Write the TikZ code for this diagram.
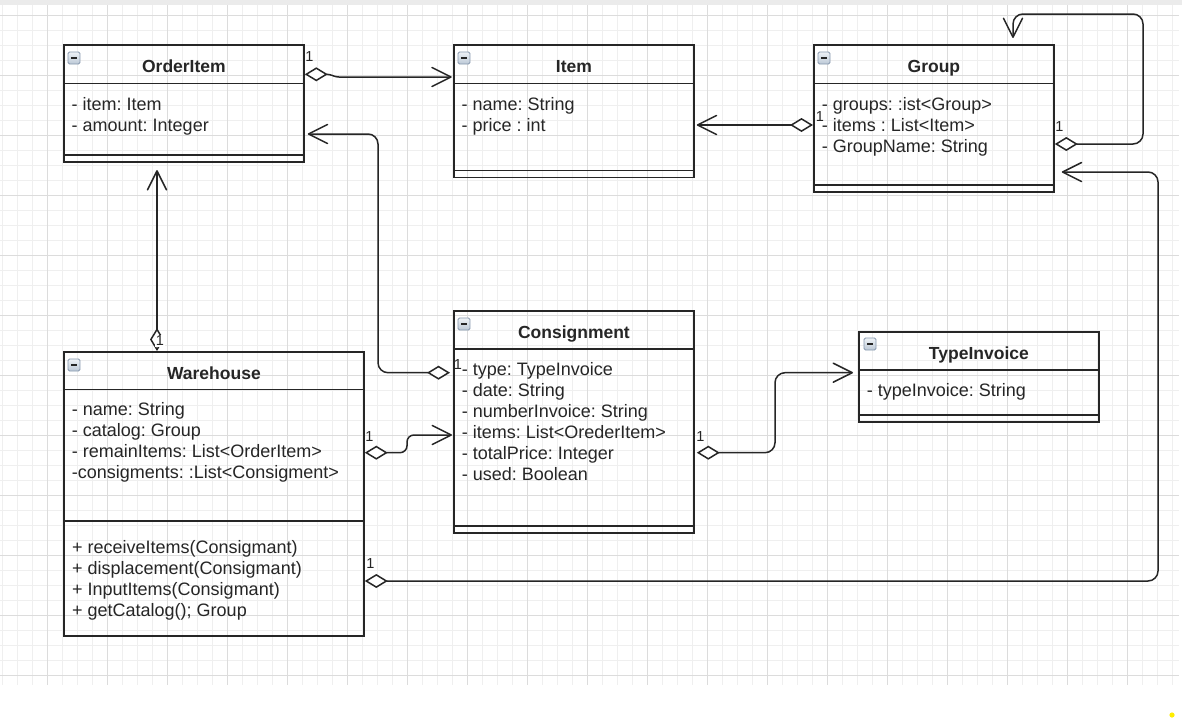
\documentclass[tikz,border=0pt]{standalone}
\usepackage{fontspec}
\setmainfont{Liberation Sans}
\usetikzlibrary{arrows.meta,calc}
\definecolor{gridmaj}{HTML}{DCDCDC}
\definecolor{gridmin}{HTML}{EFEFEF}
\definecolor{ink}{HTML}{262626}
\definecolor{iconedge}{HTML}{8798AE}
\definecolor{icontop}{HTML}{EEF2F6}
\definecolor{iconbot}{HTML}{BCC8D6}
\newcommand\attrfont{\fontsize{18}{21}\selectfont}
\newcommand\ttlfont{\fontsize{17.5}{21}\selectfont\bfseries}
\newcommand\multfont{\fontsize{14.5}{16}\selectfont}
\newcommand\attrlines[4]{%
  \foreach \t [count=\k from 0] in {#4} {%
    \node[attr] (#1-\k) at ($(#1.north west)+(#2,#3+21*\k)$) {\t};}}
\tikzset{
  umlbox/.style={draw=ink, line width=1.8pt, rectangle, inner sep=0pt, anchor=north west},
  sepline/.style={draw=ink, line width=1.8pt},
  ttl/.style={font=\ttlfont, anchor=base, inner sep=0pt, text=ink},
  attr/.style={font=\attrfont, anchor=base west, inner sep=0pt, text=ink},
  mult/.style={font=\multfont, inner sep=0pt, text=ink},
  conn/.style={draw=ink, line width=1.5pt, line join=round,
    arrows={Diamond[length=23pt,width=14pt,fill=white]-Straight Barb[length=19pt,width=19pt,round]}},
  umlicon/.pic={
    \shade[top color=icontop, bottom color=iconbot, draw=iconedge, line width=0.8pt, rounded corners=1.5pt] (0,0) rectangle (12,12);
    \draw[ink, line width=1.8pt] (3,6) -- (9,6);
  }
}
\begin{document}
\frenchspacing
\begin{tikzpicture}[x=1pt,y=-1pt]
\useasboundingbox (0,0) rectangle (1182,720);
% background and grid
\fill[white] (0,0) rectangle (1182,720);
\fill[black!8] (0,0) rectangle (1182,5);
\foreach \i in {0,...,78} \draw[gridmin, line width=1pt] (2.7+15*\i,5) -- (2.7+15*\i,685);
\foreach \j in {1,...,45} \draw[gridmin, line width=1pt] (0,15*\j) -- (1179,15*\j);
\foreach \i in {0,...,18} \draw[gridmaj, line width=1pt] (47.7+60*\i,5) -- (47.7+60*\i,685);
\foreach \j in {0,...,11} \draw[gridmaj, line width=1pt] (0,15+60*\j) -- (1179,15+60*\j);
\fill[yellow!95!orange] (1172,715) circle (2.6);

% ---------- boxes ----------
\node[umlbox, minimum width=240pt, minimum height=117.3pt] (oi) at (63,44) {};
\draw[sepline] ($(oi.north west)+(0,39.5)$) -- ($(oi.north east)+(0,39.5)$);
\draw[sepline] ($(oi.north west)+(0,111.3)$) -- ($(oi.north east)+(0,111.3)$);
\pic at ($(oi.north west)+(5,8)$) {umlicon};
\node[ttl] (oi-t) at ($(oi.north)+(0,28)$) {OrderItem};
\attrlines{oi}{8.5}{66}{- item: Item,- amount: Integer}

\node[umlbox, minimum width=240pt, minimum height=132.5pt] (it) at (453,44) {};
\draw[sepline] ($(it.north west)+(0,39.5)$) -- ($(it.north east)+(0,39.5)$);
\draw[sepline] ($(it.north west)+(0,126.5)$) -- ($(it.north east)+(0,126.5)$);
\pic at ($(it.north west)+(5,8)$) {umlicon};
\node[ttl] (it-t) at ($(it.north)+(0,28)$) {Item};
\attrlines{it}{8.5}{66}{- name: String,- price : int}

\node[umlbox, minimum width=240pt, minimum height=147pt] (gr) at (813,44) {};
\draw[sepline] ($(gr.north west)+(0,39.5)$) -- ($(gr.north east)+(0,39.5)$);
\draw[sepline] ($(gr.north west)+(0,141)$) -- ($(gr.north east)+(0,141)$);
\pic at ($(gr.north west)+(5,8)$) {umlicon};
\node[ttl] (gr-t) at ($(gr.north)+(0,28)$) {Group};
\attrlines{gr}{8.7}{66}{- groups: :ist<Group>,- items : List<Item>,- GroupName: String}

\node[umlbox, minimum width=240pt, minimum height=221.7pt] (cs) at (453,310) {};
\draw[sepline] ($(cs.north west)+(0,39)$) -- ($(cs.north east)+(0,39)$);
\draw[sepline] ($(cs.north west)+(0,216)$) -- ($(cs.north east)+(0,216)$);
\pic at ($(cs.north west)+(5,8)$) {umlicon};
\node[ttl] (cs-t) at ($(cs.north)+(0,28)$) {Consignment};
\attrlines{cs}{8.7}{65}{- type: TypeInvoice,- date: String,- numberInvoice: String,- items: List<OrederItem>,- totalPrice: Integer,- used: Boolean}

\node[umlbox, minimum width=240pt, minimum height=89.7pt] (ti) at (858,331) {};
\draw[sepline] ($(ti.north west)+(0,39)$) -- ($(ti.north east)+(0,39)$);
\draw[sepline] ($(ti.north west)+(0,84)$) -- ($(ti.north east)+(0,84)$);
\pic at ($(ti.north west)+(6,7)$) {umlicon};
\node[ttl] (ti-t) at ($(ti.north)+(0,28)$) {TypeInvoice};
\attrlines{ti}{8.7}{65.5}{- typeInvoice: String}

\node[umlbox, minimum width=300pt, minimum height=284pt] (wh) at (63,351) {};
\draw[sepline] ($(wh.north west)+(0,38.5)$) -- ($(wh.north east)+(0,38.5)$);
\draw[sepline] ($(wh.north west)+(0,170)$) -- ($(wh.north east)+(0,170)$);
\pic at ($(wh.north west)+(5,8)$) {umlicon};
\node[ttl] (wh-t) at ($(wh.north)+(0,28)$) {Warehouse};
\attrlines{wh}{8.7}{64.5}{- name: String,- catalog: Group,- remainItems: List<OrderItem>,-consigments: :List<Consigment>}
\foreach \t [count=\k from 0] in {+ receiveItems(Consigmant),+ displacement(Consigmant),+ InputItems(Consigmant),+ getCatalog(); Group} {%
  \node[attr] (wh-m\k) at ($(wh.north west)+(9,202.5+21*\k)$) {\t};}

% ---------- connectors ----------
% OrderItem -> Item
\draw[conn, rounded corners=3pt] ($(oi.north east)+(0,30.3)$) -- ++(25,0) -- ++(6,2.7) -- ($(it.north west)+(-1.3,33)$);
\node[mult] (m1) at (309.5,57) {1};
% Group -> Item
\draw[conn] ($(gr.north west)+(0,81)$) -- ($(it.north east)+(2,81)$);
\node[mult] (m2) at (820,117) {1};
% Group -> Group (self)
\draw[conn, rounded corners=10pt] ($(gr.north east)+(0,100)$) -- (1143,144) -- (1143,14) -- (1013,14) -- ($(gr.north west)+(200,-6)$);
\node[mult] (m3) at (1059.5,127) {1};
% Warehouse -> Group
\draw[conn, rounded corners=10pt] ($(wh.north east)+(0,230)$) -- (1158,581) -- (1158,172) -- ($(gr.north east)+(7,128)$);
\node[mult] (m4) at (370.5,564) {1};
% Warehouse -> OrderItem
\draw[conn] ($(wh.north west)+(94,0)$) -- ($(oi.south west)+(94,7)$);
\node[mult, fill=white, inner sep=1.2pt] (m5) at (160,341) {1};
% Consignment -> OrderItem
\draw[conn, rounded corners=10pt] ($(cs.north west)+(-3,62.7)$) -- (378,372.7) -- (378,134) -- ($(oi.north east)+(3,90)$);
\node[mult] (m6) at (458,365) {1};
% Warehouse -> Consignment
\draw[conn, rounded corners=7pt] ($(wh.north east)+(0,101.7)$) -- (407,452.7) -- (407,435) -- ($(cs.north west)+(-1,125)$);
\node[mult] (m7) at (369.5,436.7) {1};
% Consignment -> TypeInvoice
\draw[conn, rounded corners=10pt] ($(cs.north east)+(2,142.7)$) -- (775,452.7) -- (775,372.7) -- ($(ti.north west)+(-5,41.7)$);
\node[mult] (m8) at (700.5,436.7) {1};
\end{tikzpicture}
\end{document}
